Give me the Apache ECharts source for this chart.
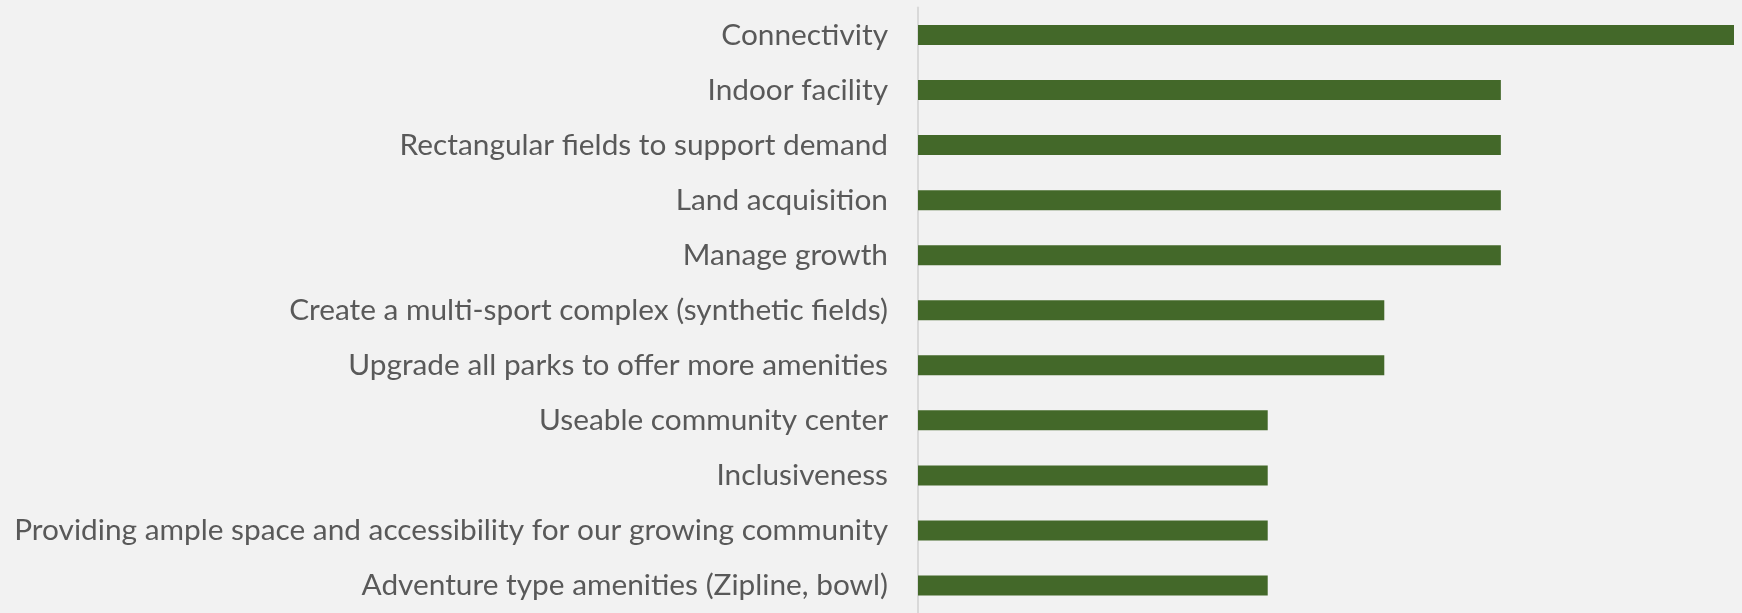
<!DOCTYPE html>
<html><head><meta charset="utf-8">
<script src="https://cdn.jsdelivr.net/npm/echarts@6/dist/echarts.min.js"></script>
<style>html,body{margin:0;padding:0;background:#f2f2f2;}#c{width:1742px;height:613px;}</style>
</head><body><div id="c"></div>
<script>
const categories = [
  "Connectivity",
  "Indoor facility",
  "Rectangular fields to support demand",
  "Land acquisition",
  "Manage growth",
  "Create a multi-sport complex (synthetic fields)",
  "Upgrade all parks to offer more amenities",
  "Useable community center",
  "Inclusiveness",
  "Providing ample space and accessibility for our growing community",
  "Adventure type amenities (Zipline, bowl)"
];
const values = [7, 5, 5, 5, 5, 4, 4, 3, 3, 3, 3];

// fit label font so the longest label spans ~875px
const fontFam = "Lato";
const cv = document.createElement('canvas').getContext('2d');
cv.font = "100px " + fontFam;
const longest = Math.max(...categories.map(c => cv.measureText(c).width));
const fs = Math.round(875 / longest * 100 * 10) / 10;

const chart = echarts.init(document.getElementById('c'));
chart.setOption({
  backgroundColor: '#f2f2f2',
  animation: false,
  grid: { left: 918, width: 816, top: 7.5, height: 611, containLabel: false },
  xAxis: {
    type: 'value', min: 0, max: 7,
    show: false
  },
  yAxis: {
    type: 'category', data: categories, inverse: true,
    axisLine: { show: true, lineStyle: { color: '#d9d9d9', width: 2 } },
    axisTick: { show: false },
    axisLabel: { color: '#595959', fontSize: fs, fontFamily: fontFam, margin: 30 }
  },
  series: [{
    type: 'bar', data: values, barWidth: 20,
    itemStyle: { color: '#436829' }
  }]
});
</script></body></html>
